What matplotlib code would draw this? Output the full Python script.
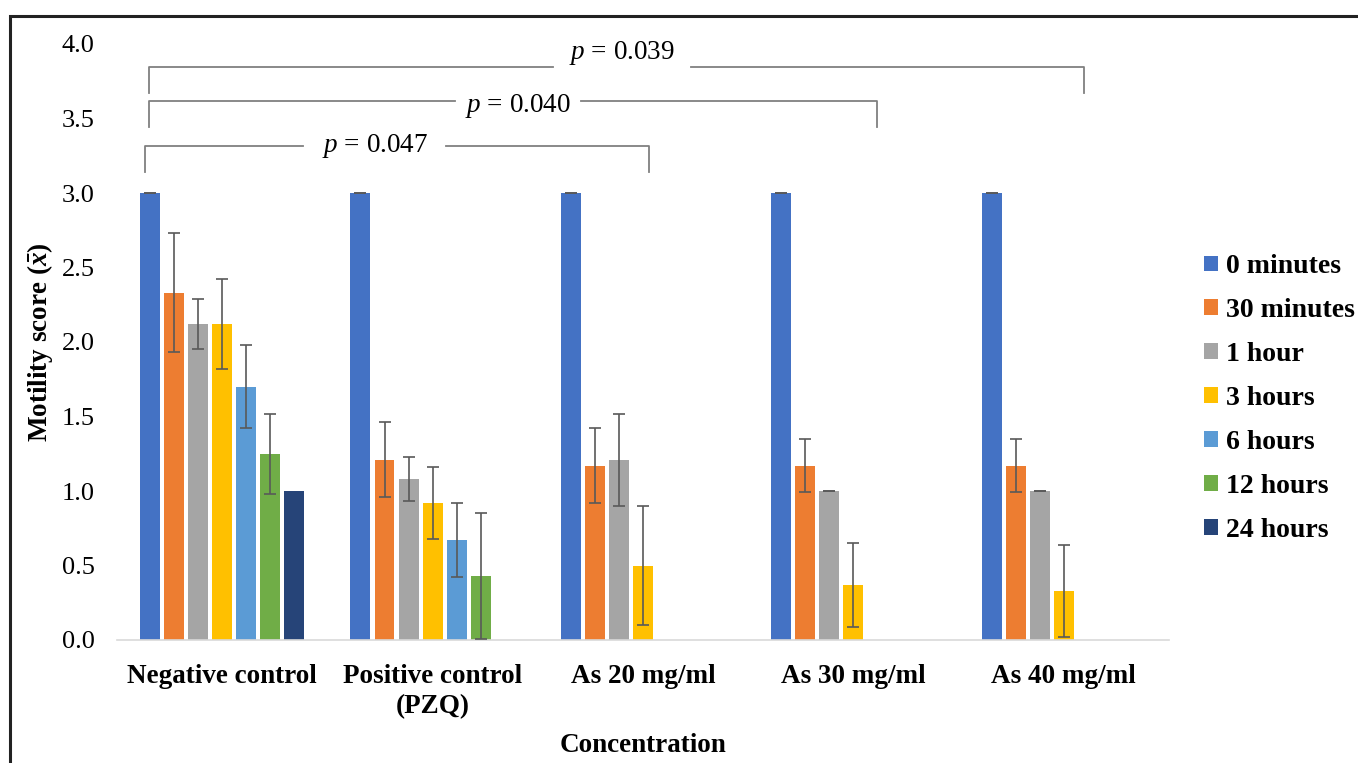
import numpy as np
import matplotlib
matplotlib.use('Agg')
import matplotlib.pyplot as plt
from matplotlib.patches import Rectangle

plt.rcParams['font.family'] = ['Liberation Serif', 'DejaVu Serif']
plt.rcParams['mathtext.fontset'] = 'custom'
plt.rcParams['mathtext.rm'] = 'Liberation Serif'
plt.rcParams['mathtext.it'] = 'Liberation Serif:italic'
plt.rcParams['mathtext.sf'] = 'Liberation Serif:style=italic:weight=bold'

# --- data ---
groups = ['Negative control', 'Positive control\n(PZQ)', 'As 20 mg/ml', 'As 30 mg/ml', 'As 40 mg/ml']
times = ['0 minutes', '30 minutes', '1 hour', '3 hours', '6 hours', '12 hours', '24 hours']

# mean motility score, one value per group (0 = no bar)
score_0m = [3.00, 3.00, 3.00, 3.00, 3.00]
score_30m = [2.33, 1.21, 1.17, 1.17, 1.17]
score_1h = [2.12, 1.08, 1.21, 1.00, 1.00]
score_3h = [2.12, 0.92, 0.50, 0.37, 0.33]
score_6h = [1.70, 0.67, 0.00, 0.00, 0.00]
score_12h = [1.25, 0.43, 0.00, 0.00, 0.00]
score_24h = [1.00, 0.00, 0.00, 0.00, 0.00]

# error bars (nan = none drawn)
nan = np.nan
err_0m = [0.00, 0.00, 0.00, 0.00, 0.00]
err_30m = [0.40, 0.25, 0.25, 0.18, 0.18]
err_1h = [0.17, 0.15, 0.31, 0.00, 0.00]
err_3h = [0.30, 0.24, 0.40, 0.28, 0.31]
err_6h = [0.28, 0.25, nan, nan, nan]
err_12h = [0.27, 0.42, nan, nan, nan]
err_24h = [nan, nan, nan, nan, nan]

# p-values, negative control vs. group index
p_labels = ['0.047', '0.040', '0.039']
p_targets = [2, 3, 4]

scores = [score_0m, score_30m, score_1h, score_3h, score_6h, score_12h, score_24h]
errors = [err_0m, err_30m, err_1h, err_3h, err_6h, err_12h, err_24h]
colors = ['#4472C4', '#ED7D31', '#A5A5A5', '#FFC000', '#5B9BD5', '#70AD47', '#264478']

fig = plt.figure(figsize=(13.58, 7.63), dpi=100)
ax = fig.add_axes([117/1358, 123/763, 1052/1358, 596/763])

x = np.arange(len(groups))
slot = 0.8 / len(times)
bar_w = slot * 0.83

for j in range(len(times)):
    pos = x + (j - 3) * slot
    vals = np.array(scores[j])
    errs = np.array(errors[j])
    ax.bar(pos, vals, bar_w, color=colors[j], label=times[j], zorder=2)
    ok = np.isfinite(errs)
    ax.errorbar(pos[ok], vals[ok], yerr=errs[ok], fmt='none', ecolor='#595959',
                elinewidth=1.2, capsize=4, capthick=1.2, zorder=3)

ax.set_xlim(-0.5, 4.5)
ax.set_ylim(0, 4.0)
ax.set_yticks(np.arange(0, 4.01, 0.5))
ax.set_yticklabels(['%.1f' % v for v in np.arange(0, 4.01, 0.5)], fontsize=19)
ax.set_xticks(x)
ax.set_xticklabels(groups, fontsize=19.5, fontweight='bold', linespacing=1.3)
ax.tick_params(axis='both', length=0)
ax.tick_params(axis='y', pad=16)
ax.tick_params(axis='x', pad=17)
for s in ['top', 'right', 'left']:
    ax.spines[s].set_visible(False)
ax.spines['bottom'].set_color('#d9d9d9')
ax.spines['bottom'].set_linewidth(1.2)

ax.set_xlabel('Concentration', fontsize=19.5, fontweight='bold', labelpad=10)
ax.set_ylabel(r'Motility score ($\mathsf{\bar{x}}$)', fontsize=19.5, fontweight='bold', labelpad=5)

# significance brackets
br_left = [-0.367, -0.349, -0.349]
br_right_off = [0.03, 0.11, 0.094]
br_y = [3.317, 3.617, 3.848]
br_drop = 0.175
txt_x = [0.726, 1.405, 1.90]
txt_half = [0.34, 0.30, 0.33]
txt_dy = [0.0, -0.03, 0.09]
for k in range(len(p_labels)):
    xl = br_left[k]
    xr = p_targets[k] + br_right_off[k]
    y = br_y[k]
    lc = '#808080'
    ax.plot([xl, xl, txt_x[k] - txt_half[k]], [y - br_drop, y, y], color=lc, lw=1.3, clip_on=False)
    ax.plot([txt_x[k] + txt_half[k], xr, xr], [y, y, y - br_drop], color=lc, lw=1.3, clip_on=False)
    ax.text(txt_x[k], y + txt_dy[k], r'$p$ = ' + p_labels[k], fontsize=19.5,
            ha='center', va='center')

ax.legend(loc='center left', bbox_to_anchor=(1204/1358, 1 - 398.5/763),
          bbox_transform=fig.transFigure, frameon=False,
          prop={'weight': 'bold', 'size': 20}, handlelength=0.5, handleheight=0.5,
          handletextpad=0.3, labelspacing=0.68, borderpad=0, borderaxespad=0)

# outer frame
fig.patches.append(Rectangle((10/1358, -0.1), 1.2, 0.1 + (763 - 16)/763,
                             transform=fig.transFigure, fill=False,
                             edgecolor='#222222', linewidth=2.2))

fig.savefig('out.png', dpi=100)
